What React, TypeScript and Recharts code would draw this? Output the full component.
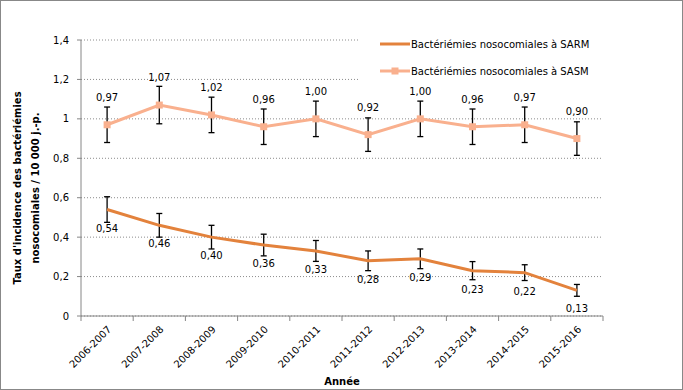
import { LineChart, Line, XAxis, YAxis, CartesianGrid, ErrorBar, LabelList } from "recharts";

const categories = [
  "2006-2007",
  "2007-2008",
  "2008-2009",
  "2009-2010",
  "2010-2011",
  "2011-2012",
  "2012-2013",
  "2013-2014",
  "2014-2015",
  "2015-2016",
];
const sarm = [0.54, 0.46, 0.4, 0.36, 0.33, 0.28, 0.29, 0.23, 0.22, 0.13];
const sarmErr = [0.065, 0.06, 0.06, 0.055, 0.053, 0.05, 0.05, 0.046, 0.04, 0.03];
const sasm = [0.97, 1.07, 1.02, 0.96, 1.0, 0.92, 1.0, 0.96, 0.97, 0.9];
const sasmErr = [0.09, 0.095, 0.09, 0.09, 0.09, 0.085, 0.09, 0.09, 0.09, 0.085];
const yTicks = [0, 0.2, 0.4, 0.6, 0.8, 1, 1.2, 1.4];

const data = categories.map((annee, i) => ({
  annee,
  sarm: sarm[i],
  sarmErr: sarmErr[i],
  sasm: sasm[i],
  sasmErr: sasmErr[i],
}));

const W = 683;
const H = 390;
const M = { top: 40, right: 80, bottom: 0, left: 0 };
const Y_W = 81;
const X_H = 74;
const band = (W - M.left - M.right - Y_W) / categories.length;

const FONT = "'DejaVu Sans', Verdana, sans-serif";
const AXIS = "#868686";
const C_SARM = "#E3823C";
const C_SASM = "#F9B08E";

const fmt = (v: number) => v.toFixed(2).replace(".", ",");
const fmtY = (v: number) => String(Number(v.toFixed(1))).replace(".", ",");

function XTick(props: any) {
  const { x, y, payload } = props;
  const idx = categories.indexOf(payload.value);
  return (
    <g>
      <line x1={x - band / 2} y1={y} x2={x - band / 2} y2={y + 5} stroke={AXIS} />
      {idx === categories.length - 1 && (
        <line x1={x + band / 2} y1={y} x2={x + band / 2} y2={y + 5} stroke={AXIS} />
      )}
      <text
        transform={`translate(${x + 5},${y + 14}) rotate(-45)`}
        textAnchor="end"
        fontSize={10}
        fontFamily={FONT}
        fill="#000"
      >
        {payload.value}
      </text>
    </g>
  );
}

function SquareDot(props: any) {
  const { cx, cy, index } = props;
  return <rect key={index} x={cx - 3.5} y={cy - 3.5} width={7} height={7} fill={C_SASM} />;
}

const labelAbove = (props: any) => (
  <text x={props.x} y={props.y - 24} textAnchor="middle" fontSize={10} fontFamily={FONT} fill="#000">
    {fmt(props.value)}
  </text>
);

const labelBelow = (props: any) => (
  <text x={props.x} y={props.y + 22} textAnchor="middle" fontSize={10} fontFamily={FONT} fill="#000">
    {fmt(props.value)}
  </text>
);

const yLabel = () => {
  const cy = 188;
  return (
    <g fontFamily={FONT} fontSize={10} fontWeight="bold" fill="#000">
      <text transform={`translate(21,${cy}) rotate(-90)`} textAnchor="middle">
        Taux d'incidence des bactériémies
      </text>
      <text transform={`translate(39,${cy}) rotate(-90)`} textAnchor="middle">
        nosocomiales / 10 000 j.-p.
      </text>
    </g>
  );
};

const xLabel = (props: any) => {
  const vb = props.viewBox || {};
  return (
    <text
      x={vb.x + vb.width / 2}
      y={385}
      textAnchor="middle"
      fontFamily={FONT}
      fontSize={10}
      fontWeight="bold"
      fill="#000"
    >
      Année
    </text>
  );
};

function LegendBox() {
  const items = [
    { name: "Bactériémies nosocomiales à SARM", color: C_SARM, square: false },
    { name: "Bactériémies nosocomiales à SASM", color: C_SASM, square: true },
  ];
  return (
    <div
      style={{
        position: "absolute",
        left: 357,
        top: 29,
        width: 290,
        height: 57,
        background: "#fff",
        fontFamily: FONT,
        fontSize: 10,
        color: "#000",
      }}
    >
      {items.map((it, i) => (
        <div
          key={it.name}
          style={{
            position: "absolute",
            left: 22,
            top: 7 + i * 27,
            height: 14,
            display: "flex",
            alignItems: "center",
            whiteSpace: "nowrap",
          }}
        >
          <svg width={30} height={10} style={{ marginRight: 1 }}>
            <line x1={0} y1={5} x2={30} y2={5} stroke={it.color} strokeWidth={3} />
            {it.square && <rect x={11.5} y={1.5} width={7} height={7} fill={it.color} />}
          </svg>
          <span>{it.name}</span>
        </div>
      ))}
    </div>
  );
}

export default function App() {
  return (
    <div
      style={{
        position: "absolute",
        left: 0,
        top: 0,
        width: W,
        height: H,
        boxSizing: "border-box",
        border: "1px solid #888",
        background: "#fff",
      }}
    >
      <div style={{ position: "absolute", left: -1, top: -1 }}>
        <LineChart width={W} height={H} data={data} margin={M}>
          <CartesianGrid vertical={false} stroke="#8c8c8c" strokeDasharray="1 2" />
          <XAxis
            dataKey="annee"
            interval={0}
            height={X_H}
            padding={{ left: band / 2, right: band / 2 }}
            stroke={AXIS}
            tickLine={false}
            tickSize={0}
            tickMargin={0}
            tick={<XTick />}
            label={{ content: xLabel }}
          />
          <YAxis
            width={Y_W}
            domain={[0, 1.4]}
            ticks={yTicks}
            tickFormatter={fmtY}
            stroke={AXIS}
            tickSize={4}
            tickMargin={8}
            tick={{ fill: "#000", fontSize: 10, fontFamily: FONT }}
            label={{ content: yLabel }}
          />
          <Line
            dataKey="sasm"
            stroke={C_SASM}
            strokeWidth={3}
            dot={SquareDot}
            activeDot={false}
            isAnimationActive={false}
          >
            <ErrorBar dataKey="sasmErr" width={3} stroke="#000" strokeWidth={1.3} direction="y" isAnimationActive={false} />
            <LabelList dataKey="sasm" content={labelAbove} />
          </Line>
          <Line
            dataKey="sarm"
            stroke={C_SARM}
            strokeWidth={3}
            dot={false}
            activeDot={false}
            isAnimationActive={false}
          >
            <ErrorBar dataKey="sarmErr" width={3} stroke="#000" strokeWidth={1.3} direction="y" isAnimationActive={false} />
            <LabelList dataKey="sarm" content={labelBelow} />
          </Line>
        </LineChart>
      </div>
      <LegendBox />
    </div>
  );
}
